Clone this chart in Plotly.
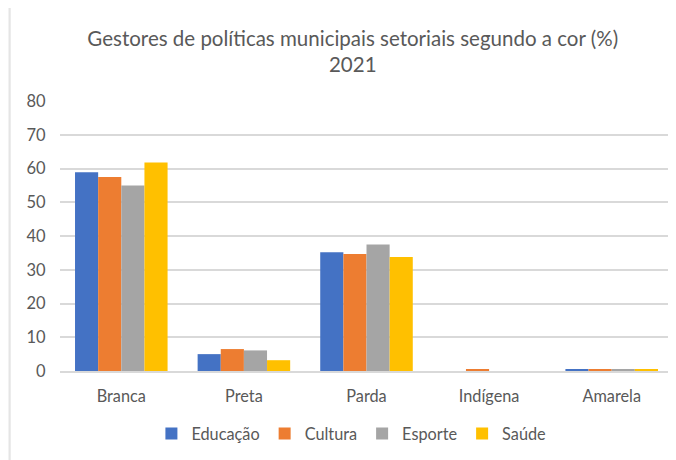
import plotly.graph_objects as go

categories = ["Branca", "Preta", "Parda", "Indígena", "Amarela"]
educacao = [58.9, 5.0, 35.2, 0.0, 0.5]
cultura = [57.5, 6.5, 34.7, 0.5, 0.5]
esporte = [55.0, 6.1, 37.5, 0.0, 0.5]
saude = [61.8, 3.2, 33.8, 0.0, 0.5]

series = [
    ("Educação", educacao, "#4472C4"),
    ("Cultura", cultura, "#ED7D31"),
    ("Esporte", esporte, "#A5A5A5"),
    ("Saúde", saude, "#FFC000"),
]

FONT = "Lato"
TXT = "#595959"

fig = go.Figure()
for name, vals, color in series:
    fig.add_trace(go.Bar(x=categories, y=vals, name=name, marker_color=color,
                         marker_line_width=0))

fig.update_layout(
    width=676, height=460,
    margin=dict(l=52, r=11, t=93, b=97, autoexpand=False),
    paper_bgcolor="#F2F2F2",
    plot_bgcolor="white",
    barmode="group",
    bargap=0.245,
    bargroupgap=0,
    font=dict(family=FONT, color=TXT, size=16),
    title=dict(
        text="Gestores de políticas municipais setoriais segundo a cor (%)<br>2021",
        x=0.51, xref="container", xanchor="center",
        y=0.918, yanchor="top",
        font=dict(family=FONT, size=20.5, color=TXT),
    ),
    legend=dict(
        orientation="h", x=0.508, xref="container", xanchor="center",
        y=-0.233, yanchor="middle",
        bgcolor="rgba(0,0,0,0)",
        font=dict(family=FONT, size=16.3, color=TXT),
        itemwidth=30, traceorder="normal",
    ),
    shapes=[dict(type="rect", xref="paper", yref="paper",
                 x0=-50 / 613, x1=1.05, y0=-0.5, y1=1.4,
                 fillcolor="white", line=dict(color="#D9D9D9", width=1),
                 layer="below")],
)

fig.update_yaxes(
    range=[0, 80], dtick=10, showgrid=True, gridcolor="#D9D9D9", gridwidth=1.5,
    zeroline=False, showline=False, automargin=False,
    ticks="outside", ticklen=10, tickcolor="rgba(0,0,0,0)",
    tickfont=dict(family=FONT, size=16.5, color=TXT),
)
fig.update_xaxes(
    showline=True, linecolor="#D9D9D9", linewidth=1.5, automargin=False,
    ticks="outside", ticklen=10, tickcolor="rgba(0,0,0,0)",
    tickfont=dict(family=FONT, size=16.3, color=TXT),
)

fig.write_html("out.html")
